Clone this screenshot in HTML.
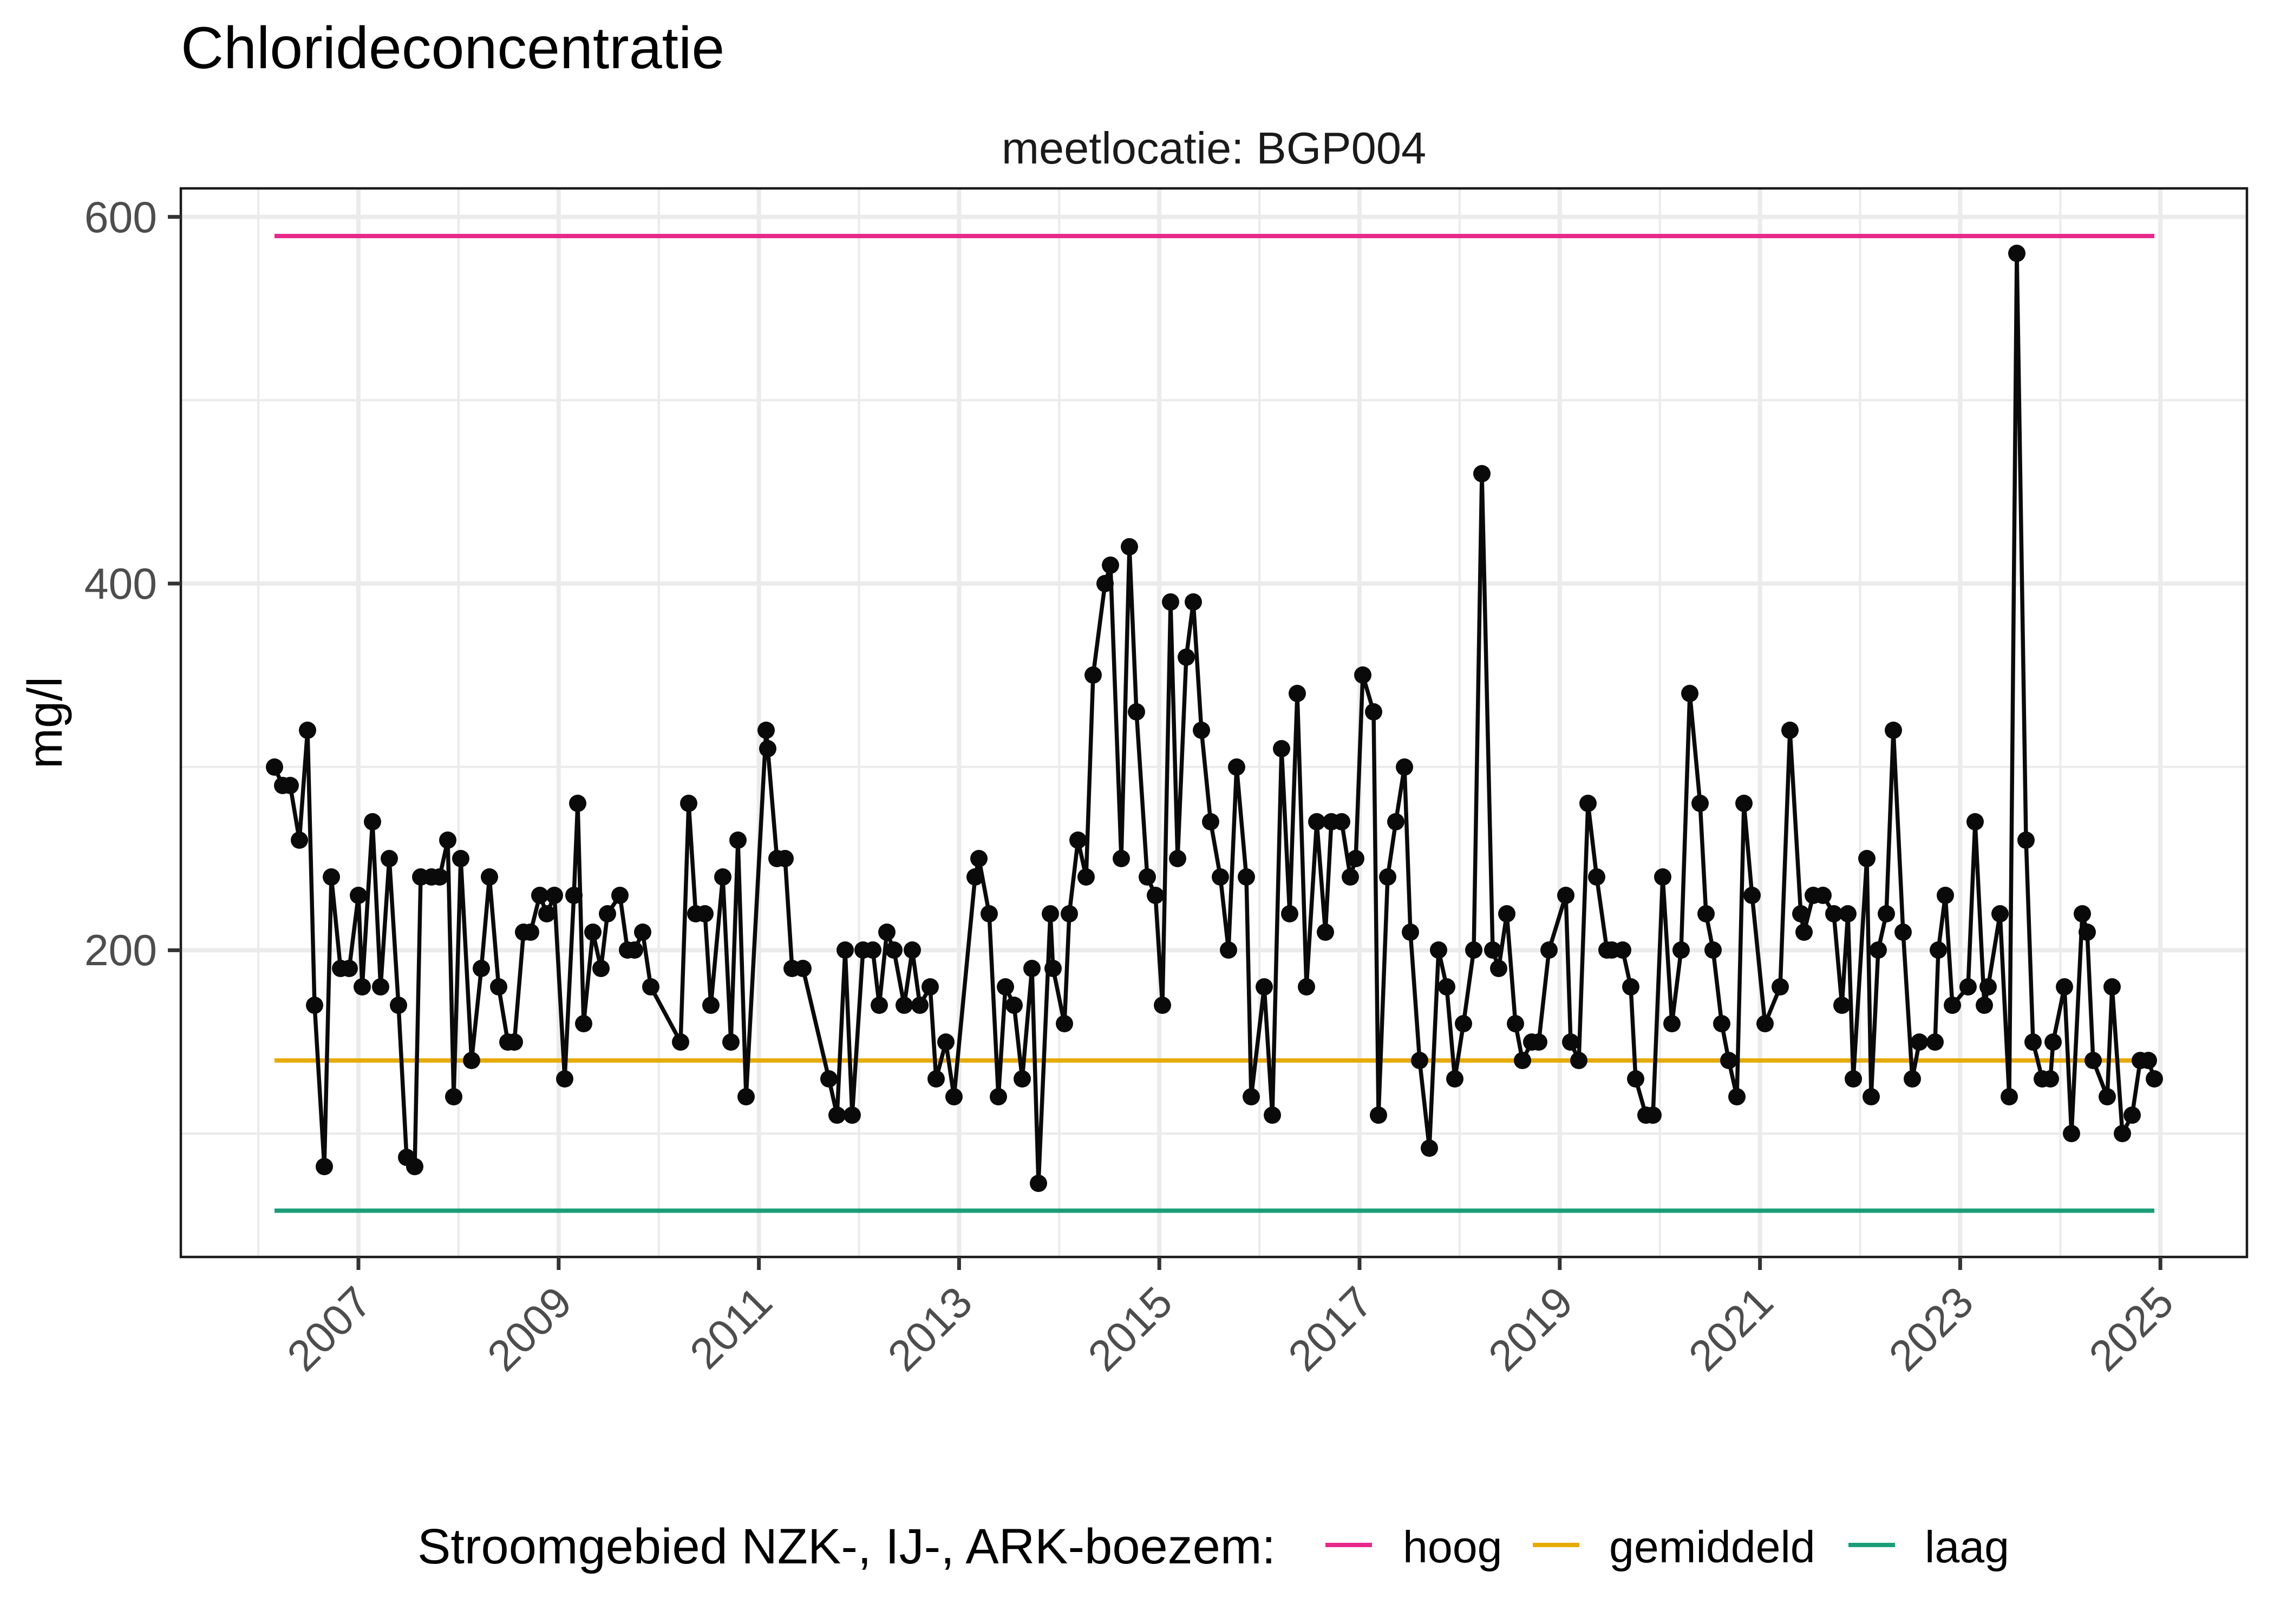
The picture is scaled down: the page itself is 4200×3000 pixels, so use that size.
<!DOCTYPE html>
<html>
<head>
<meta charset="utf-8">
<style>
html,body{margin:0;padding:0;background:#fff;}
svg{display:block;}
text{font-family:"Liberation Sans",Arial,sans-serif;}
</style>
</head>
<body>
<svg xmlns="http://www.w3.org/2000/svg" width="4200" height="3000" viewBox="0 0 4200 3000">
<rect x="0" y="0" width="4200" height="3000" fill="#fff"/>
<!-- title -->
<text x="334" y="126" font-size="109.5" fill="#000">Chlorideconcentratie</text>
<!-- strip -->
<text x="2242" y="302" font-size="83" fill="#1A1A1A" text-anchor="middle">meetlocatie: BGP004</text>

<!-- minor grid -->
<g stroke="#EBEBEB" stroke-width="4.2" fill="none">
<line x1="334" y1="739.3" x2="4150" y2="739.3"/>
<line x1="334" y1="1416.7" x2="4150" y2="1416.7"/>
<line x1="334" y1="2094.1" x2="4150" y2="2094.1"/>
<line x1="477.1" y1="348" x2="477.1" y2="2322"/>
<line x1="846.9" y1="348" x2="846.9" y2="2322"/>
<line x1="1216.7" y1="348" x2="1216.7" y2="2322"/>
<line x1="1586.5" y1="348" x2="1586.5" y2="2322"/>
<line x1="1956.3" y1="348" x2="1956.3" y2="2322"/>
<line x1="2326.1" y1="348" x2="2326.1" y2="2322"/>
<line x1="2695.9" y1="348" x2="2695.9" y2="2322"/>
<line x1="3065.7" y1="348" x2="3065.7" y2="2322"/>
<line x1="3435.5" y1="348" x2="3435.5" y2="2322"/>
<line x1="3805.3" y1="348" x2="3805.3" y2="2322"/>
</g>
<!-- major grid -->
<g stroke="#EBEBEB" stroke-width="8" fill="none">
<line x1="334" y1="400.6" x2="4150" y2="400.6"/>
<line x1="334" y1="1078" x2="4150" y2="1078"/>
<line x1="334" y1="1755.4" x2="4150" y2="1755.4"/>
<line x1="662" y1="348" x2="662" y2="2322"/>
<line x1="1031.8" y1="348" x2="1031.8" y2="2322"/>
<line x1="1401.6" y1="348" x2="1401.6" y2="2322"/>
<line x1="1771.4" y1="348" x2="1771.4" y2="2322"/>
<line x1="2141.2" y1="348" x2="2141.2" y2="2322"/>
<line x1="2511" y1="348" x2="2511" y2="2322"/>
<line x1="2880.8" y1="348" x2="2880.8" y2="2322"/>
<line x1="3250.6" y1="348" x2="3250.6" y2="2322"/>
<line x1="3620.4" y1="348" x2="3620.4" y2="2322"/>
<line x1="3990.2" y1="348" x2="3990.2" y2="2322"/>
</g>

<!-- reference lines -->
<line x1="507" y1="436" x2="3979" y2="436" stroke="#E7298A" stroke-width="8"/>
<line x1="507" y1="1959" x2="3979" y2="1959" stroke="#E6AB02" stroke-width="8"/>
<line x1="507" y1="2236.5" x2="3979" y2="2236.5" stroke="#1B9E77" stroke-width="8"/>

<!-- data line -->
<polyline fill="none" stroke="#0A0A0A" stroke-width="7.5" stroke-linejoin="round" points="
507,1417 522,1451 536,1451 553,1552 568,1349 581,1857 599,2155 612,1620 629,1789 645,1789
662,1654 669,1823 688,1518 703,1823 719,1586 736,1857 751,2138 766,2155 777,1620 797,1620
812,1620 827,1552 838,2026 851,1586 871,1959 889,1789 904,1620 921,1823 938,1925 950,1925
967,1722 980,1722 997,1654 1010,1688 1024,1654 1043,1993 1060,1654 1067,1484 1078,1891 1095,1722
1110,1789 1122,1688 1145,1654 1159,1755 1172,1755 1187,1722 1202,1823 1257,1925 1272,1484 1285,1688
1302,1688 1313,1857 1335,1620 1350,1925 1363,1552 1378,2026 1415,1349 1418,1383 1435,1586 1450,1586
1463,1789 1483,1789 1531,1993 1546,2060 1561,1755 1574,2060 1594,1755 1612,1755 1624,1857 1638,1722
1651,1755 1670,1857 1685,1755 1699,1857 1718,1823 1729,1993 1747,1925 1762,2026 1801,1620 1808,1586
1827,1688 1844,2026 1857,1823 1873,1857 1888,1993 1906,1789 1918,2186 1940,1688 1945,1789 1966,1891
1975,1688 1991,1552 2006,1620 2019,1247 2041,1078 2051,1044 2071,1586 2086,1010 2099,1315 2119,1620
2134,1654 2147,1857 2162,1112 2175,1586 2191,1214 2204,1112 2219,1349 2236,1518 2254,1620 2269,1755
2284,1417 2302,1620 2311,2026 2335,1823 2350,2060 2367,1383 2382,1688 2396,1281 2413,1823 2432,1518
2448,1722 2459,1518 2478,1518 2494,1620 2504,1586 2517,1247 2537,1315 2546,2060 2563,1620 2578,1518
2594,1417 2605,1722 2622,1959 2640,2121 2657,1755 2672,1823 2687,1993 2703,1891 2722,1755 2737,875
2757,1755 2768,1789 2783,1688 2799,1891 2812,1959 2829,1925 2842,1925 2861,1755 2892,1654 2901,1925
2916,1959 2933,1484 2949,1620 2968,1755 2977,1755 2997,1755 3012,1823 3021,1993 3040,2060 3053,2060
3071,1620 3088,1891 3105,1755 3121,1281 3140,1484 3151,1688 3164,1755 3180,1891 3193,1959 3208,2026
3221,1484 3236,1654 3260,1891 3288,1823 3306,1349 3326,1688 3332,1722 3349,1654 3367,1654 3387,1688
3402,1857 3413,1688 3423,1993 3448,1586 3456,2026 3469,1755 3484,1688 3497,1349 3515,1722 3532,1993
3545,1925 3574,1925 3580,1755 3593,1654 3606,1857 3635,1823 3648,1518 3665,1857 3672,1823 3694,1688
3711,2026 3725,468 3742,1552 3755,1925 3772,1993 3787,1993 3792,1925 3813,1823 3826,2094 3846,1688
3855,1722 3866,1959 3892,2026 3901,1823 3920,2094 3938,2060 3953,1959 3968,1959 3979,1993"/>

<!-- data points -->
<g fill="#0A0A0A">
<circle cx="507" cy="1417" r="16"/><circle cx="522" cy="1451" r="16"/><circle cx="536" cy="1451" r="16"/><circle cx="553" cy="1552" r="16"/><circle cx="568" cy="1349" r="16"/><circle cx="581" cy="1857" r="16"/><circle cx="599" cy="2155" r="16"/><circle cx="612" cy="1620" r="16"/><circle cx="629" cy="1789" r="16"/><circle cx="645" cy="1789" r="16"/>
<circle cx="662" cy="1654" r="16"/><circle cx="669" cy="1823" r="16"/><circle cx="688" cy="1518" r="16"/><circle cx="703" cy="1823" r="16"/><circle cx="719" cy="1586" r="16"/><circle cx="736" cy="1857" r="16"/><circle cx="751" cy="2138" r="16"/><circle cx="766" cy="2155" r="16"/><circle cx="777" cy="1620" r="16"/><circle cx="797" cy="1620" r="16"/>
<circle cx="812" cy="1620" r="16"/><circle cx="827" cy="1552" r="16"/><circle cx="838" cy="2026" r="16"/><circle cx="851" cy="1586" r="16"/><circle cx="871" cy="1959" r="16"/><circle cx="889" cy="1789" r="16"/><circle cx="904" cy="1620" r="16"/><circle cx="921" cy="1823" r="16"/><circle cx="938" cy="1925" r="16"/><circle cx="950" cy="1925" r="16"/>
<circle cx="967" cy="1722" r="16"/><circle cx="980" cy="1722" r="16"/><circle cx="997" cy="1654" r="16"/><circle cx="1010" cy="1688" r="16"/><circle cx="1024" cy="1654" r="16"/><circle cx="1043" cy="1993" r="16"/><circle cx="1060" cy="1654" r="16"/><circle cx="1067" cy="1484" r="16"/><circle cx="1078" cy="1891" r="16"/><circle cx="1095" cy="1722" r="16"/>
<circle cx="1110" cy="1789" r="16"/><circle cx="1122" cy="1688" r="16"/><circle cx="1145" cy="1654" r="16"/><circle cx="1159" cy="1755" r="16"/><circle cx="1172" cy="1755" r="16"/><circle cx="1187" cy="1722" r="16"/><circle cx="1202" cy="1823" r="16"/><circle cx="1257" cy="1925" r="16"/><circle cx="1272" cy="1484" r="16"/><circle cx="1285" cy="1688" r="16"/>
<circle cx="1302" cy="1688" r="16"/><circle cx="1313" cy="1857" r="16"/><circle cx="1335" cy="1620" r="16"/><circle cx="1350" cy="1925" r="16"/><circle cx="1363" cy="1552" r="16"/><circle cx="1378" cy="2026" r="16"/><circle cx="1415" cy="1349" r="16"/><circle cx="1418" cy="1383" r="16"/><circle cx="1435" cy="1586" r="16"/><circle cx="1450" cy="1586" r="16"/>
<circle cx="1463" cy="1789" r="16"/><circle cx="1483" cy="1789" r="16"/><circle cx="1531" cy="1993" r="16"/><circle cx="1546" cy="2060" r="16"/><circle cx="1561" cy="1755" r="16"/><circle cx="1574" cy="2060" r="16"/><circle cx="1594" cy="1755" r="16"/><circle cx="1612" cy="1755" r="16"/><circle cx="1624" cy="1857" r="16"/><circle cx="1638" cy="1722" r="16"/>
<circle cx="1651" cy="1755" r="16"/><circle cx="1670" cy="1857" r="16"/><circle cx="1685" cy="1755" r="16"/><circle cx="1699" cy="1857" r="16"/><circle cx="1718" cy="1823" r="16"/><circle cx="1729" cy="1993" r="16"/><circle cx="1747" cy="1925" r="16"/><circle cx="1762" cy="2026" r="16"/><circle cx="1801" cy="1620" r="16"/><circle cx="1808" cy="1586" r="16"/>
<circle cx="1827" cy="1688" r="16"/><circle cx="1844" cy="2026" r="16"/><circle cx="1857" cy="1823" r="16"/><circle cx="1873" cy="1857" r="16"/><circle cx="1888" cy="1993" r="16"/><circle cx="1906" cy="1789" r="16"/><circle cx="1918" cy="2186" r="16"/><circle cx="1940" cy="1688" r="16"/><circle cx="1945" cy="1789" r="16"/><circle cx="1966" cy="1891" r="16"/>
<circle cx="1975" cy="1688" r="16"/><circle cx="1991" cy="1552" r="16"/><circle cx="2006" cy="1620" r="16"/><circle cx="2019" cy="1247" r="16"/><circle cx="2041" cy="1078" r="16"/><circle cx="2051" cy="1044" r="16"/><circle cx="2071" cy="1586" r="16"/><circle cx="2086" cy="1010" r="16"/><circle cx="2099" cy="1315" r="16"/><circle cx="2119" cy="1620" r="16"/>
<circle cx="2134" cy="1654" r="16"/><circle cx="2147" cy="1857" r="16"/><circle cx="2162" cy="1112" r="16"/><circle cx="2175" cy="1586" r="16"/><circle cx="2191" cy="1214" r="16"/><circle cx="2204" cy="1112" r="16"/><circle cx="2219" cy="1349" r="16"/><circle cx="2236" cy="1518" r="16"/><circle cx="2254" cy="1620" r="16"/><circle cx="2269" cy="1755" r="16"/>
<circle cx="2284" cy="1417" r="16"/><circle cx="2302" cy="1620" r="16"/><circle cx="2311" cy="2026" r="16"/><circle cx="2335" cy="1823" r="16"/><circle cx="2350" cy="2060" r="16"/><circle cx="2367" cy="1383" r="16"/><circle cx="2382" cy="1688" r="16"/><circle cx="2396" cy="1281" r="16"/><circle cx="2413" cy="1823" r="16"/><circle cx="2432" cy="1518" r="16"/>
<circle cx="2448" cy="1722" r="16"/><circle cx="2459" cy="1518" r="16"/><circle cx="2478" cy="1518" r="16"/><circle cx="2494" cy="1620" r="16"/><circle cx="2504" cy="1586" r="16"/><circle cx="2517" cy="1247" r="16"/><circle cx="2537" cy="1315" r="16"/><circle cx="2546" cy="2060" r="16"/><circle cx="2563" cy="1620" r="16"/><circle cx="2578" cy="1518" r="16"/>
<circle cx="2594" cy="1417" r="16"/><circle cx="2605" cy="1722" r="16"/><circle cx="2622" cy="1959" r="16"/><circle cx="2640" cy="2121" r="16"/><circle cx="2657" cy="1755" r="16"/><circle cx="2672" cy="1823" r="16"/><circle cx="2687" cy="1993" r="16"/><circle cx="2703" cy="1891" r="16"/><circle cx="2722" cy="1755" r="16"/><circle cx="2737" cy="875" r="16"/>
<circle cx="2757" cy="1755" r="16"/><circle cx="2768" cy="1789" r="16"/><circle cx="2783" cy="1688" r="16"/><circle cx="2799" cy="1891" r="16"/><circle cx="2812" cy="1959" r="16"/><circle cx="2829" cy="1925" r="16"/><circle cx="2842" cy="1925" r="16"/><circle cx="2861" cy="1755" r="16"/><circle cx="2892" cy="1654" r="16"/><circle cx="2901" cy="1925" r="16"/>
<circle cx="2916" cy="1959" r="16"/><circle cx="2933" cy="1484" r="16"/><circle cx="2949" cy="1620" r="16"/><circle cx="2968" cy="1755" r="16"/><circle cx="2977" cy="1755" r="16"/><circle cx="2997" cy="1755" r="16"/><circle cx="3012" cy="1823" r="16"/><circle cx="3021" cy="1993" r="16"/><circle cx="3040" cy="2060" r="16"/><circle cx="3053" cy="2060" r="16"/>
<circle cx="3071" cy="1620" r="16"/><circle cx="3088" cy="1891" r="16"/><circle cx="3105" cy="1755" r="16"/><circle cx="3121" cy="1281" r="16"/><circle cx="3140" cy="1484" r="16"/><circle cx="3151" cy="1688" r="16"/><circle cx="3164" cy="1755" r="16"/><circle cx="3180" cy="1891" r="16"/><circle cx="3193" cy="1959" r="16"/><circle cx="3208" cy="2026" r="16"/>
<circle cx="3221" cy="1484" r="16"/><circle cx="3236" cy="1654" r="16"/><circle cx="3260" cy="1891" r="16"/><circle cx="3288" cy="1823" r="16"/><circle cx="3306" cy="1349" r="16"/><circle cx="3326" cy="1688" r="16"/><circle cx="3332" cy="1722" r="16"/><circle cx="3349" cy="1654" r="16"/><circle cx="3367" cy="1654" r="16"/><circle cx="3387" cy="1688" r="16"/>
<circle cx="3402" cy="1857" r="16"/><circle cx="3413" cy="1688" r="16"/><circle cx="3423" cy="1993" r="16"/><circle cx="3448" cy="1586" r="16"/><circle cx="3456" cy="2026" r="16"/><circle cx="3469" cy="1755" r="16"/><circle cx="3484" cy="1688" r="16"/><circle cx="3497" cy="1349" r="16"/><circle cx="3515" cy="1722" r="16"/><circle cx="3532" cy="1993" r="16"/>
<circle cx="3545" cy="1925" r="16"/><circle cx="3574" cy="1925" r="16"/><circle cx="3580" cy="1755" r="16"/><circle cx="3593" cy="1654" r="16"/><circle cx="3606" cy="1857" r="16"/><circle cx="3635" cy="1823" r="16"/><circle cx="3648" cy="1518" r="16"/><circle cx="3665" cy="1857" r="16"/><circle cx="3672" cy="1823" r="16"/><circle cx="3694" cy="1688" r="16"/>
<circle cx="3711" cy="2026" r="16"/><circle cx="3725" cy="468" r="16"/><circle cx="3742" cy="1552" r="16"/><circle cx="3755" cy="1925" r="16"/><circle cx="3772" cy="1993" r="16"/><circle cx="3787" cy="1993" r="16"/><circle cx="3792" cy="1925" r="16"/><circle cx="3813" cy="1823" r="16"/><circle cx="3826" cy="2094" r="16"/><circle cx="3846" cy="1688" r="16"/>
<circle cx="3855" cy="1722" r="16"/><circle cx="3866" cy="1959" r="16"/><circle cx="3892" cy="2026" r="16"/><circle cx="3901" cy="1823" r="16"/><circle cx="3920" cy="2094" r="16"/><circle cx="3938" cy="2060" r="16"/><circle cx="3953" cy="1959" r="16"/><circle cx="3968" cy="1959" r="16"/><circle cx="3979" cy="1993" r="16"/>
</g>

<!-- panel border -->
<rect x="334" y="348" width="3816" height="1974" fill="none" stroke="#1A1A1A" stroke-width="4.5"/>

<!-- y ticks -->
<g stroke="#333333" stroke-width="7">
<line x1="310" y1="400.6" x2="334" y2="400.6"/>
<line x1="310" y1="1078" x2="334" y2="1078"/>
<line x1="310" y1="1755.4" x2="334" y2="1755.4"/>
</g>
<g font-size="80.5" fill="#4D4D4D" text-anchor="end">
<text x="290" y="429">600</text>
<text x="290" y="1106">400</text>
<text x="290" y="1783">200</text>
</g>

<!-- x ticks -->
<g stroke="#333333" stroke-width="7">
<line x1="662" y1="2322" x2="662" y2="2346"/>
<line x1="1031.8" y1="2322" x2="1031.8" y2="2346"/>
<line x1="1401.6" y1="2322" x2="1401.6" y2="2346"/>
<line x1="1771.4" y1="2322" x2="1771.4" y2="2346"/>
<line x1="2141.2" y1="2322" x2="2141.2" y2="2346"/>
<line x1="2511" y1="2322" x2="2511" y2="2346"/>
<line x1="2880.8" y1="2322" x2="2880.8" y2="2346"/>
<line x1="3250.6" y1="2322" x2="3250.6" y2="2346"/>
<line x1="3620.4" y1="2322" x2="3620.4" y2="2346"/>
<line x1="3990.2" y1="2322" x2="3990.2" y2="2346"/>
</g>
<g font-size="80.5" fill="#4D4D4D" text-anchor="end">
<text transform="translate(691,2411) rotate(-45)">2007</text>
<text transform="translate(1060.8,2411) rotate(-45)">2009</text>
<text transform="translate(1430.6,2411) rotate(-45)">2011</text>
<text transform="translate(1800.4,2411) rotate(-45)">2013</text>
<text transform="translate(2170.2,2411) rotate(-45)">2015</text>
<text transform="translate(2540,2411) rotate(-45)">2017</text>
<text transform="translate(2909.8,2411) rotate(-45)">2019</text>
<text transform="translate(3279.6,2411) rotate(-45)">2021</text>
<text transform="translate(3649.4,2411) rotate(-45)">2023</text>
<text transform="translate(4019.2,2411) rotate(-45)">2025</text>
</g>

<!-- y axis title -->
<text transform="translate(114,1335) rotate(-90)" font-size="90" fill="#000" text-anchor="middle">mg/l</text>

<!-- legend -->
<text x="771" y="2888" font-size="92" fill="#000">Stroomgebied NZK-, IJ-, ARK-boezem:</text>
<line x1="2448" y1="2854" x2="2534" y2="2854" stroke="#E7298A" stroke-width="8"/>
<line x1="2831" y1="2854" x2="2917" y2="2854" stroke="#E6AB02" stroke-width="8"/>
<line x1="3414" y1="2854" x2="3500" y2="2854" stroke="#1B9E77" stroke-width="8"/>
<g font-size="82.5" fill="#000">
<text x="2591" y="2886">hoog</text>
<text x="2972" y="2886">gemiddeld</text>
<text x="3555" y="2886">laag</text>
</g>
</svg>
</body>
</html>
